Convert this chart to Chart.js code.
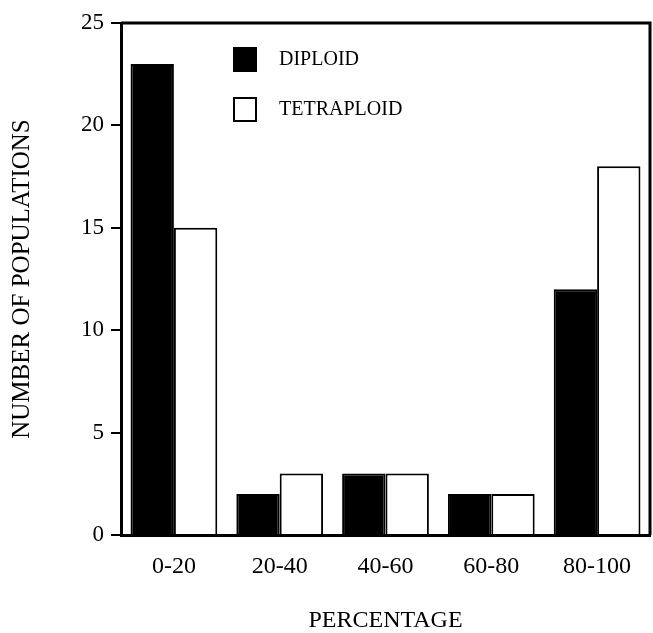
<!DOCTYPE html>
<html>
<head>
<meta charset="utf-8">
<script src="https://cdn.jsdelivr.net/npm/chart.js@4/dist/chart.umd.min.js"></script>
<style>
  html, body { margin: 0; padding: 0; background: #fff; }
  #wrap { width: 653px; height: 633px; }
</style>
</head>
<body>
<div id="wrap"><canvas id="chart" width="653" height="633"></canvas></div>
<script>
// data
const categories = ["0-20", "20-40", "40-60", "60-80", "80-100"];
const diploid = [23, 2, 3, 2, 12];
const tetraploid = [15, 3, 3, 2, 18];
const yMax = 25;
const yStep = 5;

const serif = "'Liberation Serif', 'DejaVu Serif', serif";

// white page behind the chart
const whiteBg = {
    id: 'whiteBg',
    beforeDraw(chart) {
        const ctx = chart.ctx;
        ctx.save();
        ctx.fillStyle = '#fff';
        ctx.fillRect(0, 0, chart.width, chart.height);
        ctx.restore();
    }
};

// top and right edges of the frame
const frame = {
    id: 'frame',
    afterDraw(chart) {
        const a = chart.chartArea;
        const ctx = chart.ctx;
        ctx.save();
        ctx.strokeStyle = '#000';
        ctx.lineWidth = 3;
        ctx.beginPath();
        ctx.moveTo(a.left, a.top);
        ctx.lineTo(a.right, a.top);
        ctx.lineTo(a.right, a.bottom);
        ctx.stroke();
        ctx.restore();
    }
};

// legend inside the plot, stacked
const boxLegend = {
    id: 'boxLegend',
    afterDraw(chart) {
        const a = chart.chartArea;
        const ctx = chart.ctx;
        ctx.save();
        ctx.font = "20px " + serif;
        ctx.textBaseline = 'middle';
        chart.data.datasets.forEach((ds, i) => {
            const x = a.left + 113;
            const y = a.top + 25 + i * 50;
            ctx.fillStyle = ds.backgroundColor;
            ctx.fillRect(x, y, 22, 23);
            ctx.strokeStyle = '#000';
            ctx.lineWidth = 2;
            ctx.strokeRect(x, y, 22, 23);
            ctx.fillStyle = '#000';
            ctx.fillText(ds.label, x + 45, y + 12);
        });
        ctx.restore();
    }
};

const data = {
    labels: categories,
    datasets: [{
        label: "DIPLOID",
        data: diploid,
        backgroundColor: '#000',
        borderColor: '#000',
        borderWidth: 2
    }, {
        label: "TETRAPLOID",
        data: tetraploid,
        backgroundColor: '#fff',
        borderColor: '#000',
        borderWidth: 2
    }]
};

const options = {
    responsive: false,
    animation: false,
    layout: { padding: { top: 23, right: 3, bottom: 0, left: 0 } },
    datasets: { bar: { categoryPercentage: 0.82, barPercentage: 1 } },
    plugins: { legend: { display: false }, tooltip: { enabled: false } },
    scales: {
        x: {
            grid: { display: true, drawOnChartArea: false, drawTicks: false },
            border: { display: true, color: '#000', width: 3 },
            ticks: { color: '#000', padding: 17, font: { family: serif, size: 24 } },
            title: {
                display: true, text: "PERCENTAGE", color: '#000',
                padding: { top: 0, bottom: 0 },
                font: { family: serif, size: 24, lineHeight: 1 }
            },
            afterFit(s) { s.height = 98; }
        },
        y: {
            min: 0,
            max: yMax,
            grid: { display: true, drawOnChartArea: false, drawTicks: true, tickLength: 10, color: '#000', lineWidth: 2 },
            border: { display: true, color: '#000', width: 3 },
            ticks: { stepSize: yStep, color: '#000', padding: 7, font: { family: serif, size: 23 } },
            title: {
                display: true, text: "NUMBER OF POPULATIONS", color: '#000',
                padding: { top: 10, bottom: 0 },
                font: { family: serif, size: 25, lineHeight: 1 }
            },
            afterFit(s) { s.width = 121; }
        }
    }
};

const myChart = new Chart('chart', {
    type: 'bar',
    data: data,
    options: options,
    plugins: [whiteBg, frame, boxLegend]
});
</script>
</body>
</html>
